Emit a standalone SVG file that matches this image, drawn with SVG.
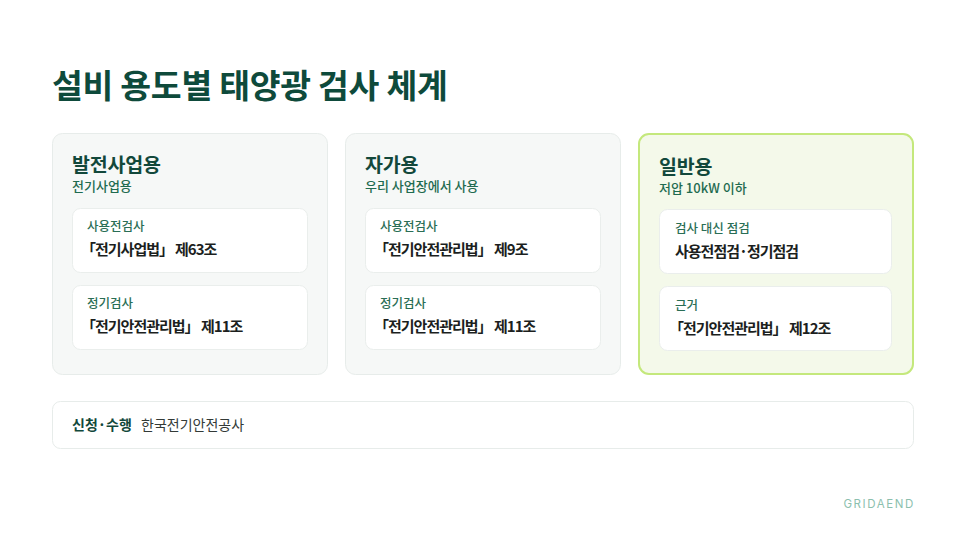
<svg xmlns="http://www.w3.org/2000/svg" width="966" height="543" viewBox="0 0 966 543">
<style>
text{font-family:"Noto Sans CJK KR","Noto Sans",sans-serif}
.title{font-size:33.5px;font-weight:700;fill:#0e4a3b;letter-spacing:-0.3px}
.card{fill:#f6f8f7;stroke:#e7ecea;stroke-width:1}
.cardHi{fill:#f4f9ea;stroke:#c4e87c;stroke-width:2}
.inner{fill:#ffffff;stroke:#eaeeec;stroke-width:1}
.h{font-size:19.5px;font-weight:700;fill:#12483b;letter-spacing:-0.2px}
.sub{font-size:13px;font-weight:500;fill:#1f6b50}
.lab{font-size:12.5px;font-weight:500;fill:#2a6e55}
.val{font-size:15px;font-weight:700;fill:#1c1f1e;letter-spacing:-1px}
.bar{fill:#ffffff;stroke:#e7ecea;stroke-width:1}
.bk{font-size:14px;font-weight:700;fill:#12483b}
.bv{font-size:14px;font-weight:400;fill:#333a37}
.brand{font-size:11.5px;font-weight:400;fill:#8cbfae;letter-spacing:1.6px;font-family:"Inter","Noto Sans",sans-serif}
</style>
<rect width="966" height="543" fill="#ffffff"/>
<text class="title" x="52" y="98">설비 용도별 태양광 검사 체계</text>

<g id="card-generation">
<rect class="card" x="52.5" y="133.5" width="275" height="241" rx="10"/>
<text class="h" x="72" y="171.5">발전사업용</text>
<text class="sub" x="72" y="191">전기사업용</text>
<rect class="inner" x="72.5" y="208.5" width="235" height="64" rx="8"/>
<text class="lab" x="87" y="231">사용전검사</text>
<text class="val" x="81" y="255">「전기사업법」</text>
<text class="val" x="175" y="255">제63조</text>
<rect class="inner" x="72.5" y="285.5" width="235" height="64" rx="8"/>
<text class="lab" x="87" y="308">정기검사</text>
<text class="val" x="81" y="332">「전기안전관리법」</text>
<text class="val" x="201" y="332">제11조</text>
</g>

<g id="card-self">
<rect class="card" x="345.5" y="133.5" width="275" height="241" rx="10"/>
<text class="h" x="365" y="171.5">자가용</text>
<text class="sub" x="365" y="191">우리 사업장에서 사용</text>
<rect class="inner" x="365.5" y="208.5" width="235" height="64" rx="8"/>
<text class="lab" x="380" y="231">사용전검사</text>
<text class="val" x="374" y="255">「전기안전관리법」</text>
<text class="val" x="494" y="255">제9조</text>
<rect class="inner" x="365.5" y="285.5" width="235" height="64" rx="8"/>
<text class="lab" x="380" y="308">정기검사</text>
<text class="val" x="374" y="332">「전기안전관리법」</text>
<text class="val" x="494" y="332">제11조</text>
</g>

<g id="card-general">
<rect class="cardHi" x="639" y="134" width="274" height="240" rx="10"/>
<text class="h" x="659" y="173.5">일반용</text>
<text class="sub" x="659" y="193">저압 10kW 이하</text>
<rect class="inner" x="659.5" y="209.5" width="232" height="64" rx="8"/>
<text class="lab" x="675" y="233">검사 대신 점검</text>
<text class="val" x="675" y="257">사용전점검·정기점검</text>
<rect class="inner" x="659.5" y="286.5" width="232" height="64" rx="8"/>
<text class="lab" x="675" y="310">근거</text>
<text class="val" x="669" y="334">「전기안전관리법」</text>
<text class="val" x="789" y="334">제12조</text>
</g>

<g id="bar-agency">
<rect class="bar" x="52.5" y="401.5" width="861" height="47" rx="8"/>
<text class="bk" x="72" y="430">신청·수행</text>
<text class="bv" x="141" y="430">한국전기안전공사</text>
</g>

<g id="connectors"></g>

<text class="brand" x="915" y="508" text-anchor="end">GRIDAEND</text>
</svg>
